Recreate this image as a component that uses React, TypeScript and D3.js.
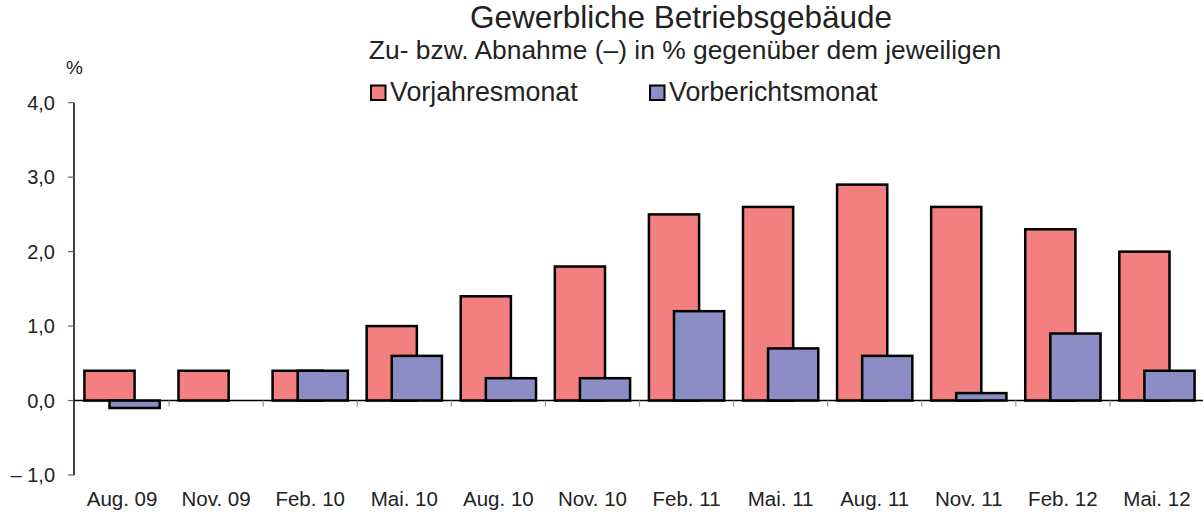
import React, { useRef, useEffect } from "react";
import * as d3 from "d3";

const categories = [
  "Aug. 09", "Nov. 09", "Feb. 10", "Mai. 10", "Aug. 10", "Nov. 10",
  "Feb. 11", "Mai. 11", "Aug. 11", "Nov. 11", "Feb. 12", "Mai. 12",
];
const vorjahresmonat = [0.4, 0.4, 0.4, 1.0, 1.4, 1.8, 2.5, 2.6, 2.9, 2.6, 2.3, 2.0];
const vorberichtsmonat = [-0.1, 0.0, 0.4, 0.6, 0.3, 0.3, 1.2, 0.7, 0.6, 0.1, 0.9, 0.4];
const yTicks = [-1, 0, 1, 2, 3, 4];
const seriesNames = ["Vorjahresmonat", "Vorberichtsmonat"];

const RED = "#f47f81";
const BLUE = "#8b8dc4";
const FONT = "'Liberation Sans', Arial, sans-serif";

const fmt = (v: number) =>
  (v < 0 ? "\u2013 " : "") + Math.abs(v).toFixed(1).replace(".", ",");

const App = () => {
  const ref = useRef<SVGSVGElement>(null);

  useEffect(() => {
    if (!ref.current) return;
    const width = 1203;
    const height = 517;
    const svg = d3.select(ref.current);
    svg.selectAll("*").remove();
    svg.attr("width", width).attr("height", height);

    const x = d3
      .scaleBand()
      .domain(categories)
      .range([75, 1204])
      .paddingInner(0.2)
      .paddingOuter(0.1);
    const y = d3.scaleLinear().domain([-1, 4]).range([475, 102.7]);
    const step = x.step();
    const bw = x.bandwidth();
    const barW = (bw * 2) / 3;

    // y axis
    const yAxis = svg.append("g");
    yAxis
      .append("line")
      .attr("x1", 74).attr("x2", 74)
      .attr("y1", y(4)).attr("y2", y(-1))
      .attr("stroke", "#000").attr("stroke-width", 1.5);
    yTicks.forEach((t) => {
      yAxis
        .append("line")
        .attr("x1", 68).attr("x2", 74)
        .attr("y1", y(t)).attr("y2", y(t))
        .attr("stroke", "#666").attr("stroke-width", 1.2);
      yAxis
        .append("text")
        .attr("x", 55).attr("y", y(t))
        .attr("dy", "0.36em")
        .attr("text-anchor", "end")
        .attr("font-family", FONT).attr("font-size", 20)
        .attr("fill", "#222")
        .text(fmt(t));
    });
    svg
      .append("text")
      .attr("x", 66).attr("y", 74)
      .attr("font-family", FONT).attr("font-size", 19)
      .attr("fill", "#222")
      .text("%");

    // bars
    const bars = svg.append("g");
    categories.forEach((c, i) => {
      const x0 = x(c) as number;
      const a = vorjahresmonat[i];
      const b = vorberichtsmonat[i];
      bars
        .append("rect")
        .attr("x", x0).attr("width", barW)
        .attr("y", y(Math.max(0, a)))
        .attr("height", Math.abs(y(a) - y(0)))
        .attr("fill", RED).attr("stroke", "#000").attr("stroke-width", 2.5);
      if (b !== 0) {
        bars
          .append("rect")
          .attr("x", x0 + bw / 3).attr("width", barW)
          .attr("y", y(Math.max(0, b)))
          .attr("height", Math.abs(y(b) - y(0)))
          .attr("fill", BLUE).attr("stroke", "#000").attr("stroke-width", 2.5);
      }
    });

    // x axis
    const xAxis = svg.append("g");
    xAxis
      .append("line")
      .attr("x1", 74).attr("x2", 1204)
      .attr("y1", y(0)).attr("y2", y(0))
      .attr("stroke", "#000").attr("stroke-width", 1.5);
    categories.forEach((c, i) => {
      const x0 = (x(c) as number) - x.paddingOuter() * step;
      if (i > 0) {
        xAxis
          .append("line")
          .attr("x1", x0).attr("x2", x0)
          .attr("y1", y(0)).attr("y2", y(0) + 6)
          .attr("stroke", "#999").attr("stroke-width", 1.2);
      }
      xAxis
        .append("text")
        .attr("x", (x(c) as number) + bw / 2).attr("y", 506)
        .attr("text-anchor", "middle")
        .attr("font-family", FONT).attr("font-size", 20.5)
        .attr("fill", "#222")
        .text(c);
    });

    // titles
    svg
      .append("text")
      .attr("x", 681).attr("y", 28)
      .attr("text-anchor", "middle")
      .attr("font-family", FONT).attr("font-size", 31.5)
      .attr("fill", "#222")
      .text("Gewerbliche Betriebsgebäude");
    svg
      .append("text")
      .attr("x", 685).attr("y", 59)
      .attr("text-anchor", "middle")
      .attr("font-family", FONT).attr("font-size", 26.4)
      .attr("fill", "#222")
      .text("Zu- bzw. Abnahme (\u2013) in % gegenüber dem jeweiligen");

    // legend
    const legendX = [371, 650];
    const colors = [RED, BLUE];
    seriesNames.forEach((name, i) => {
      svg
        .append("rect")
        .attr("x", legendX[i]).attr("y", 85.5)
        .attr("width", 14.5).attr("height", 14.5)
        .attr("fill", colors[i]).attr("stroke", "#000").attr("stroke-width", 2);
      svg
        .append("text")
        .attr("x", legendX[i] + 19).attr("y", 101)
        .attr("font-family", FONT).attr("font-size", 26.8)
        .attr("fill", "#222")
        .text(name);
    });
  }, []);

  return (
    <svg
      ref={ref}
      style={{ position: "absolute", left: 0, top: 0, background: "#fff" }}
    />
  );
};

export default App;
